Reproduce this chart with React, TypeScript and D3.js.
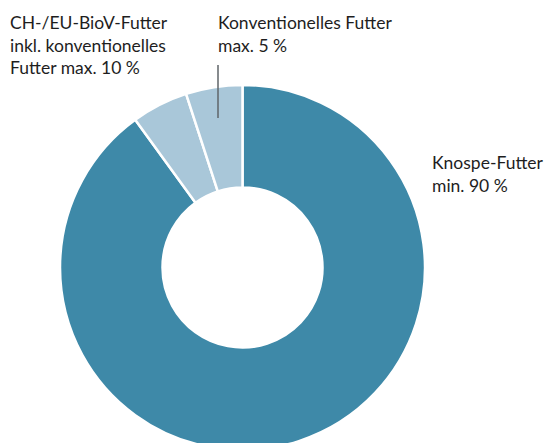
import React, { useRef, useEffect } from 'react';
import * as d3 from 'd3';

// Anteile Futter (Prozent), im Uhrzeigersinn ab 12 Uhr
const categories = ['Knospe-Futter', 'CH-/EU-BioV-Futter', 'Konventionelles Futter'];
const shares = [90, 5, 5];
const colors = ['#3e89a8', '#a9c7d9', '#a9c7d9'];

const labelKnospe = ['Knospe-Futter', 'min. 90 %'];
const labelBioV = ['CH-/EU-BioV-Futter', 'inkl. konventionelles', 'Futter max. 10 %'];
const labelKonv = ['Konventionelles Futter', 'max. 5 %'];

const App = () => {
  const ref = useRef<SVGSVGElement>(null);

  useEffect(() => {
    if (!ref.current) return;
    const svg = d3.select(ref.current);
    svg.selectAll('*').remove();

    const width = 552;
    const height = 443;
    const cx = 242.5;
    const cy = 267.5;
    const outer = 182.5;
    const inner = 80;

    const data = categories.map((c, i) => ({ name: c, value: shares[i], color: colors[i] }));
    const pie = d3.pie<any>().value(d => d.value).sort(null);
    const arc = d3.arc<any>().innerRadius(inner).outerRadius(outer);

    const g = svg.append('g').attr('transform', `translate(${cx},${cy})`);
    g.selectAll('path')
      .data(pie(data))
      .enter()
      .append('path')
      .attr('d', arc)
      .attr('fill', d => d.data.color)
      .attr('stroke', '#fff')
      .attr('stroke-width', 2.5)
      .attr('stroke-linejoin', 'round');

    // leader line into the "Konventionelles" slice
    const lx = 218;
    svg.append('line')
      .attr('x1', lx).attr('x2', lx)
      .attr('y1', 65).attr('y2', 118)
      .attr('stroke', '#5f6468')
      .attr('stroke-width', 1.5);

    const font = 'Lato, sans-serif';
    const addLabel = (lines: string[], x: number, y: number) => {
      const t = svg.append('text')
        .attr('x', x).attr('y', y)
        .attr('font-family', font)
        .attr('font-size', 17.5)
        .attr('fill', '#1e1e1e');
      lines.forEach((l, i) => {
        t.append('tspan').attr('x', x).attr('dy', i === 0 ? 0 : 22.5).text(l);
      });
    };
    addLabel(labelBioV, 10, 29);
    addLabel(labelKonv, 218, 29);
    addLabel(labelKnospe, 432, 169);

    svg.attr('width', width).attr('height', height);
  }, []);

  return (
    <svg ref={ref} width={552} height={443} style={{ position: 'absolute', left: 0, top: 0 }} />
  );
};

export default App;
